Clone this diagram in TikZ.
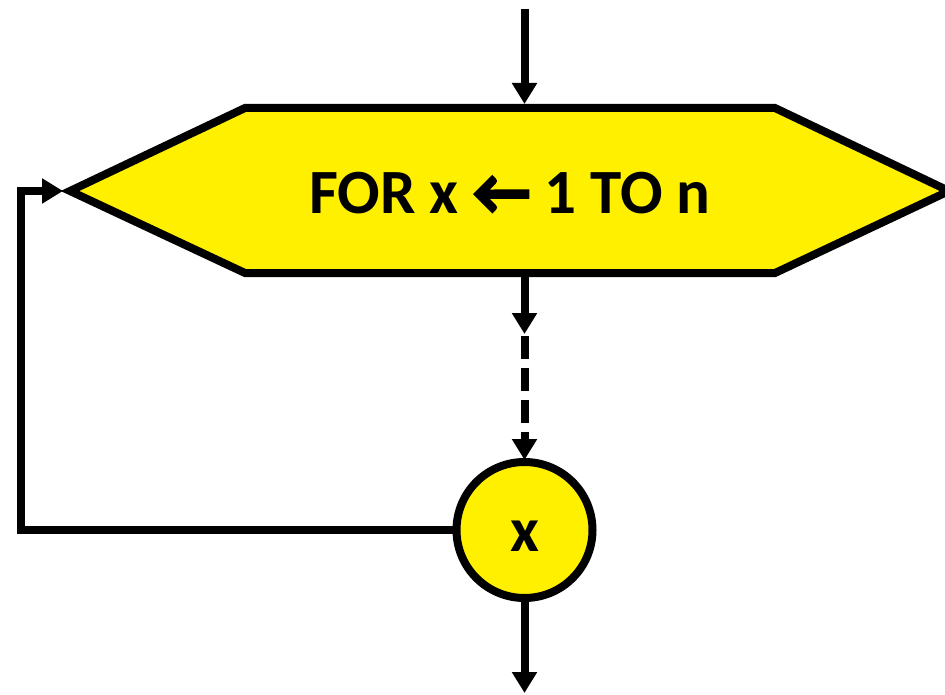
\documentclass[tikz,border=0pt]{standalone}
\usepackage{fontspec}
\setmainfont{Carlito}
\usetikzlibrary{arrows.meta}
\definecolor{flyellow}{RGB}{255,240,0}
\tikzset{
  flowline/.style={line width=8pt, draw=black},
  flowarrow/.style={flowline, -{Triangle[length=21pt,width=24pt]}},
  dashflow/.style={flowarrow, dash pattern=on 23pt off 9pt},
  hexfill/.style={flowline, fill=flyellow, line join=miter},
  flowtext/.style={font=\bfseries\fontsize{63}{70}\selectfont, inner sep=0pt},
  jointnode/.style={circle, draw=black, line width=8pt, fill=flyellow, minimum size=136pt, inner sep=0pt, text height=43pt, text depth=0pt, font=\bfseries\fontsize{63}{70}\selectfont}
}
\begin{document}
\begin{tikzpicture}[x=1pt,y=-1pt]
\useasboundingbox (0,0) rectangle (945,695);
\clip (0,0) rectangle (945,695);
% hexagon vertices
\coordinate (hA) at (70,191);
\coordinate (hB) at (245,108);
\coordinate (hC) at (775,108);
\coordinate (hD) at (949,191);
\coordinate (hE) at (775,273);
\coordinate (hF) at (245,273);
\draw[hexfill] (hA) -- (hB) -- (hC) -- (hD) -- (hE) -- (hF) -- cycle;
\node[flowtext] (for) at (510,193) {FOR x {\addfontfeature{FakeBold=4}←} 1 TO n};
% connector points
\coordinate (in) at (524.5,9);
\coordinate (hexTop) at (524.5,104);
\coordinate (hexBot) at (524.5,273);
\coordinate (mid) at (524.5,334);
\coordinate (midb) at (524.5,336);
\coordinate (hexL) at (63,191);
\coordinate (corner1) at (21,530);
\coordinate (corner2) at (21,191);
\coordinate (out) at (524.5,693);
\node[jointnode] (xn) at (524.5,530) {x};
\draw[flowarrow] (in) -- (hexTop);
\draw[flowarrow] (hexBot) -- (mid);
\draw[dashflow] (midb) -- ([yshift=-2pt]xn.north);
\draw[flowline] (xn.west) -- (corner1) -- (corner2) -- ([xshift=-18pt]hexL);
\draw[flowarrow, shorten <=-4pt] ([xshift=-18pt]hexL) -- (hexL);
\draw[flowarrow] (xn.south) -- (out);
\end{tikzpicture}
\end{document}
